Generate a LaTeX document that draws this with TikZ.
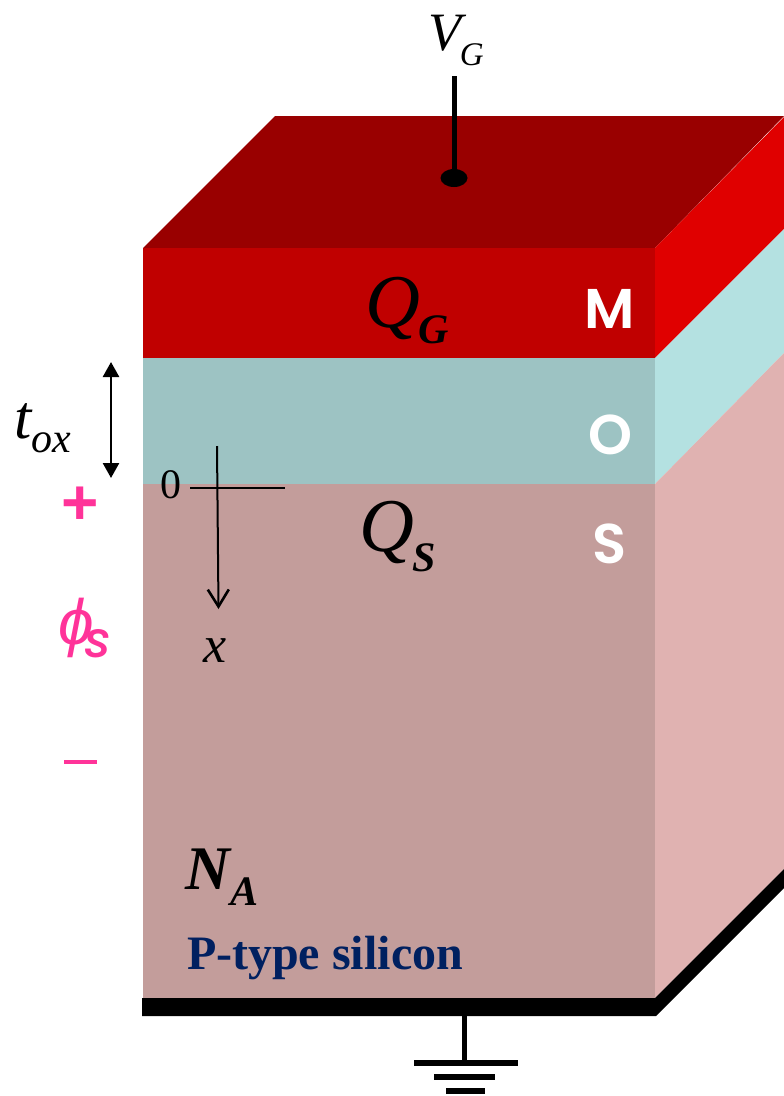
\documentclass[tikz,border=0pt]{standalone}
\usepackage{fontspec}
\setmainfont{Liberation Serif}
\newfontfamily\geo[UprightFont={* SemiBold},ItalicFont={* Medium Italic}]{Poppins}
\newfontfamily\lib{Liberation Sans}
\usetikzlibrary{arrows.meta,shapes.geometric}
\definecolor{topdark}{HTML}{990000}
\definecolor{mfront}{HTML}{C00000}
\definecolor{mside}{HTML}{E00000}
\definecolor{ofront}{HTML}{9DC3C3}
\definecolor{oside}{HTML}{B4E1E1}
\definecolor{sfront}{HTML}{C39D9B}
\definecolor{sside}{HTML}{E0B2B1}
\definecolor{pinkish}{HTML}{FF3399}
\definecolor{navyblue}{HTML}{002060}
\newcommand{\fs}[1]{\fontsize{#1}{#1}\selectfont}
\newcommand{\subd}[2]{\raisebox{-#1pt}{#2}}
\tikzset{
  lab/.style={inner sep=0pt,outer sep=0pt,anchor=center},
  mos/.style={lab,text=white,font=\geo\fs{56}},
  wire/.style={line width=5pt,black},
  axis/.style={line width=2pt,black}
}
\begin{document}
\begin{tikzpicture}[x=1pt,y=-1pt]
\useasboundingbox (0,0) rectangle (784,1096);
% faces
\fill[topdark] (143,248) -- (275,116) -- (784,116) -- (655,248) -- cycle;
\fill[mside] (655,248) -- (784,117) -- (784,229) -- (655,358) -- cycle;
\fill[oside] (655,358) -- (784,229) -- (784,353) -- (655,484) -- cycle;
\fill[sside] (655,484) -- (784,353) -- (784,869) -- (655,998) -- cycle;
\fill[mfront] (143,248) rectangle (655,358);
\fill[ofront] (143,358) rectangle (655,484);
\fill[sfront] (143,484) rectangle (655,998);
% back contact
\fill[black] (142,998) -- (655,998) -- (784,869) -- (784,888) -- (656,1016) -- (142,1016) -- cycle;
% gate terminal
\node[fill=black,ellipse,minimum width=27pt,minimum height=18pt,inner sep=0pt] (gatedot) at (454,178) {};
\coordinate (gatetop) at (454,76);
\draw[wire] (gatetop) -- (gatedot.center);
% ground
\coordinate (gndtop) at (464.5,1016);
\coordinate (gb1l) at (414,1063); \coordinate (gb1r) at (518,1063);
\coordinate (gb2l) at (434,1077); \coordinate (gb2r) at (495,1077);
\coordinate (gb3l) at (446,1091); \coordinate (gb3r) at (485,1091);
\coordinate (gndbot) at (464.5,1063);
\draw[wire,line width=5.5pt] (gndtop) -- (gndbot);
\draw[wire,line width=6pt] (gb1l) -- (gb1r);
\draw[wire,line width=6pt] (gb2l) -- (gb2r);
\draw[wire,line width=6pt] (gb3l) -- (gb3r);
% tox arrow
\coordinate (toxa) at (111,362); \coordinate (toxb) at (111,478);
\draw[line width=2.5pt,{Triangle[length=15pt,width=16pt]}-{Triangle[length=15pt,width=16pt]}] (toxa) -- (toxb);
% axes
\coordinate (axl) at (190,487.5); \coordinate (axr) at (285,487.5);
\coordinate (axt) at (217,446); \coordinate (axb) at (218.5,609);
\draw[axis] (axl) -- (axr);
\draw[axis,-{Straight Barb[length=17pt,width=21pt,line width=2.6pt]}] (axt) -- (axb);
% labels
\node[lab,anchor=base west] (vg) at (428,50) {\fs{54}\itshape V\hspace{-1pt}\subd{15}{\fs{33}G}};
\node[lab,anchor=base west] (qg) at (365,327) {\fs{76}\itshape Q\hspace{-1pt}\subd{16}{\fs{42}\bfseries G}};
\node[lab,anchor=base west] (qs) at (359,551) {\fs{76}\itshape Q\hspace{-1pt}\subd{20}{\fs{42}\bfseries S}};
\node[lab,anchor=base west] (tox) at (14,438) {\fs{62}\itshape t\subd{14}{\fs{42}ox}};
\node[lab,anchor=base west] (na) at (185,889) {\fs{62}\bfseries\itshape N\hspace{1pt}\subd{16}{\fs{42}A}};
\node[lab,anchor=base west,text=navyblue] (ptype) at (187,969) {\fs{48}\bfseries P-type silicon};
\node[lab,anchor=base] (zero) at (171,498) {\fs{42}0};
\node[lab,anchor=base] (xl) at (215,662) {\fs{52}\itshape x};
\node[mos] (mm) at (610,309) {M};
\node[mos] (oo) at (610,435) {O};
\node[mos] (ss) at (610,544) {S};
\node[lab] (plus) at (80,506) {\lib\bfseries\textcolor{pinkish}{\fs{64}+}};
\node[lab,fill=pinkish,minimum width=33pt,minimum height=4.5pt] (minus) at (80,762) {};
\node[lab,anchor=base west,text=pinkish] (phi) at (58,644) {\lib\itshape\fs{64}\symbol{"03D5}\hspace{-9pt}\subd{13}{\geo\fs{50}s}};
\end{tikzpicture}
\end{document}
